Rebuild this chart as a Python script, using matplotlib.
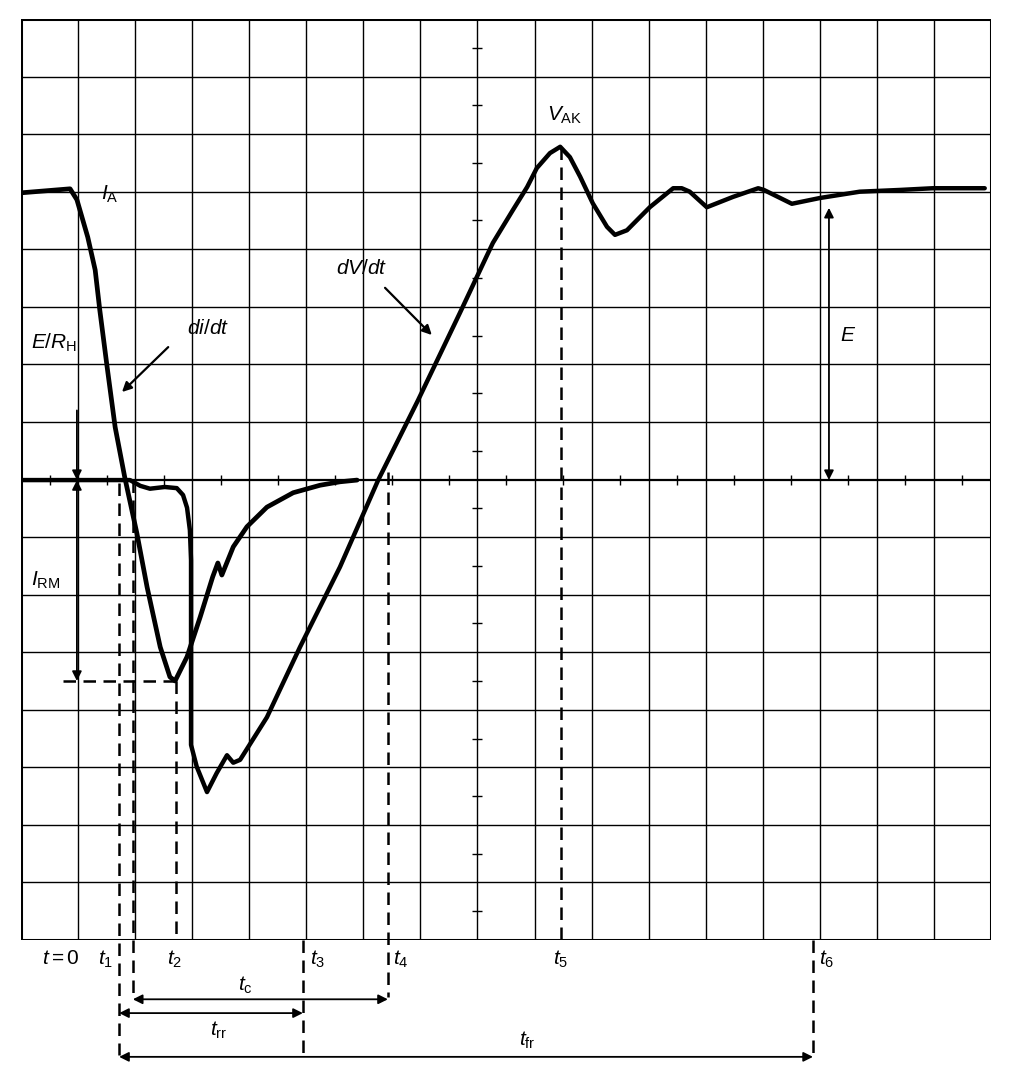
import matplotlib
matplotlib.use("Agg")
import matplotlib.pyplot as plt
import numpy as np

plt.rcParams['font.family'] = ['Liberation Sans', 'DejaVu Sans']
plt.rcParams['mathtext.fontset'] = 'custom'
plt.rcParams['mathtext.it'] = 'Liberation Sans:italic'
plt.rcParams['mathtext.rm'] = 'Liberation Sans'

# ---- data (grid divisions: x = 0..17, y = 0..16, zero line at y = 8) ----
ia_x = [0, 0.86, 0.98, 1.17, 1.30, 1.38, 1.51, 1.65, 1.82, 2.03, 2.21, 2.44, 2.61, 2.70,
        2.91, 3.14, 3.36, 3.45, 3.52, 3.72, 3.96, 4.31, 4.77, 5.24, 5.59, 5.89]
ia_y = [12.98, 13.05, 12.86, 12.21, 11.64, 10.95, 9.95, 8.91, 8.03, 7.07, 6.13, 5.09, 4.57, 4.50,
        4.92, 5.61, 6.31, 6.55, 6.34, 6.83, 7.18, 7.52, 7.77, 7.90, 7.96, 7.99]

vak_x = [0, 1.91, 2.09, 2.26, 2.52, 2.73, 2.84, 2.91, 2.96, 2.98, 2.98, 3.08, 3.26, 3.43, 3.61,
         3.72, 3.84, 4.31, 4.89, 5.59, 6.26, 6.96, 7.69, 8.27, 8.62, 8.87, 9.04, 9.27, 9.45,
         9.62, 9.80, 10.02, 10.27, 10.41, 10.62, 11.02, 11.43, 11.58, 11.72, 12.02, 12.48,
         12.92, 13.02, 13.51, 14.00, 14.70, 15.40, 15.98, 16.89]
vak_y = [7.99, 7.99, 7.89, 7.84, 7.87, 7.85, 7.73, 7.51, 7.12, 6.60, 3.39, 3.01, 2.57, 2.90, 3.21,
         3.08, 3.13, 3.87, 5.09, 6.48, 7.99, 9.38, 10.89, 12.11, 12.68, 13.08, 13.41, 13.67, 13.78,
         13.60, 13.26, 12.80, 12.39, 12.25, 12.33, 12.73, 13.06, 13.06, 13.00, 12.73, 12.91,
         13.06, 13.03, 12.79, 12.89, 13.00, 13.03, 13.06, 13.06]

# time markers (x) and their dashed extents (y from, y to)
t_names = ['t1', 't1b', 't2', 't3', 't4', 't5', 't6']
t_x = [1.72, 1.96, 2.72, 4.94, 6.43, 9.46, 13.88]
t_ytop = [7.94, 7.99, 4.50, 0.0, 8.13, 13.78, 0.0]
t_ybot = [-2.0, -1.03, 0.0, -2.0, -0.99, 0.0, -2.03]

irm_level = 4.50
irm_xstart = 0.74

# interval arrows: (x from, x to, y)
intervals = {'tc': (1.96, 6.43, -1.03), 'trr': (1.72, 4.94, -1.27), 'tfr': (1.72, 13.88, -2.03)}

# ---- figure ----
W, H = 1010, 1091
fig = plt.figure(figsize=(W / 100, H / 100), dpi=100)
ax = fig.add_axes([21 / W, 1 - 940 / H, 970 / W, 921 / H])
ax.set_xlim(0, 17)
ax.set_ylim(0, 16)
ax.axis('off')

K = 'black'
# grid
for i in range(1, 17):
    ax.plot([i, i], [0, 16], color=K, lw=1.0, zorder=1)
for j in range(1, 16):
    ax.plot([0, 17], [j, j], color=K, lw=1.6 if j == 8 else 1.0, zorder=1)
# border
ax.plot([0, 17, 17, 0, 0], [0, 0, 16, 16, 0], color=K, lw=2.2, zorder=2, solid_joinstyle='miter')

# center cross minor ticks
hx = np.arange(0.5, 17, 1.0)
ax.plot(hx, np.full_like(hx, 8.0), ls='none', marker='|', ms=7, mew=1.0, color=K, zorder=2)
hy = np.arange(0.5, 16, 1.0)
ax.plot(np.full_like(hy, 8.0), hy, ls='none', marker='_', ms=7, mew=1.0, color=K, zorder=2)

# curves
ax.plot(ia_x, ia_y, color=K, lw=3.4, solid_joinstyle='round', solid_capstyle='round', zorder=5)
ax.plot(vak_x, vak_y, color=K, lw=3.2, solid_joinstyle='round', solid_capstyle='round', zorder=5)

# dashed markers
dash = (0, (5, 3))
for xx, y0, y1 in zip(t_x, t_ytop, t_ybot):
    ax.plot([xx, xx], [y0, y1], color=K, lw=1.8, ls=dash, clip_on=False, zorder=4)
ax.plot([irm_xstart, t_x[2]], [irm_level, irm_level], color=K, lw=1.8, ls=dash, zorder=4)

def arrow(x0, y0, x1, y1, style='-|>', lw=1.3, ms=14):
    ax.annotate('', xy=(x1, y1), xytext=(x0, y0), xycoords='data',
                arrowprops=dict(arrowstyle=style, color=K, lw=lw, mutation_scale=ms,
                                shrinkA=0, shrinkB=0), annotation_clip=False, zorder=6)

for name, (xa, xb, yy) in intervals.items():
    arrow(xa, yy, xb, yy, style='<|-|>')

# E dimension
arrow(14.16, 12.72, 14.16, 7.99, style='<|-|>')
# E/R_H and I_RM dimension arrows
arrow(0.98, 9.2, 0.98, 7.99, style='-|>')
arrow(0.98, 7.99, 0.98, irm_level, style='<|-|>')
# slope pointers
arrow(2.58, 10.30, 1.77, 9.52, style='-|>', lw=1.6)
arrow(6.38, 11.33, 7.20, 10.51, style='-|>', lw=1.6)

fs = 15
def label(x, y, s, ha='center'):
    ax.text(x, y, s, fontsize=fs, ha=ha, va='center', color=K, clip_on=False, zorder=7)

label(1.56, 12.96, r'$I_{\mathrm{A}}$')
label(0.58, 10.37, r'$E/R_{\mathrm{H}}$')
label(3.28, 10.62, r'$di/dt$')
label(5.98, 11.67, r'$dV/dt$')
label(9.53, 14.32, r'$V_{\mathrm{AK}}$')
label(14.49, 10.51, r'$E$')
label(0.44, 6.25, r'$I_{\mathrm{RM}}$')

yb = -0.33
label(0.70, yb, r'$t = 0$')
label(1.48, yb, r'$t_1$')
label(2.70, yb, r'$t_2$')
label(5.19, yb, r'$t_3$')
label(6.65, yb, r'$t_4$')
label(9.45, yb, r'$t_5$')
label(14.12, yb, r'$t_6$')
label(3.93, -0.78, r'$t_{\mathrm{c}}$')
label(3.47, -1.57, r'$t_{\mathrm{rr}}$')
label(8.88, -1.75, r'$t_{\mathrm{fr}}$')

fig.savefig('out.png', dpi=100, facecolor='white')
